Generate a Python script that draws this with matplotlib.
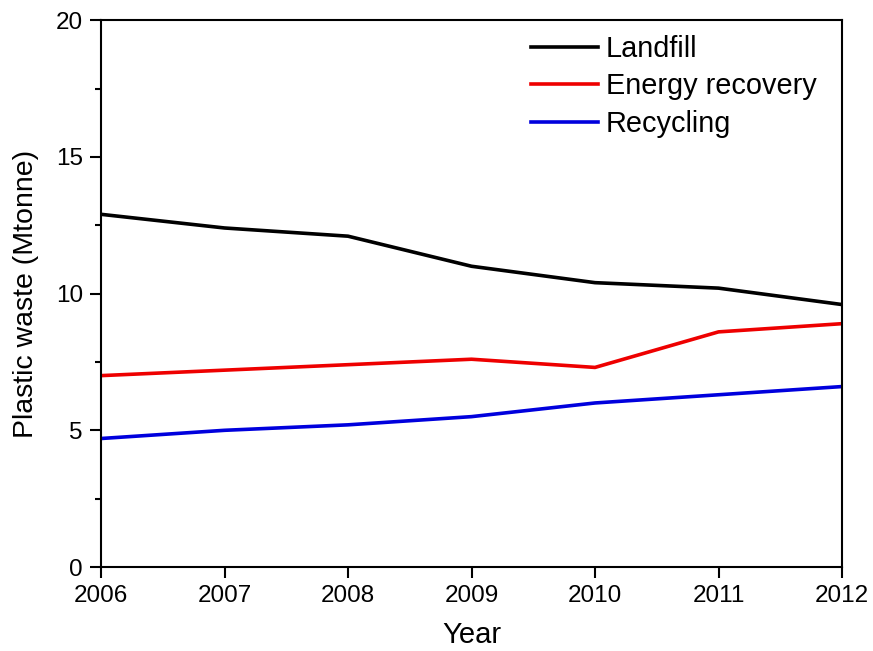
import matplotlib.pyplot as plt
from matplotlib.ticker import MultipleLocator

plt.rcParams['font.family'] = ['Liberation Sans', 'DejaVu Sans']

years = [2006, 2007, 2008, 2009, 2010, 2011, 2012]
landfill = [12.9, 12.4, 12.1, 11.0, 10.4, 10.2, 9.6]
energy_recovery = [7.0, 7.2, 7.4, 7.6, 7.3, 8.6, 8.9]
recycling = [4.7, 5.0, 5.2, 5.5, 6.0, 6.3, 6.6]

fig = plt.figure(figsize=(8.73, 6.51), dpi=100)
ax = fig.add_axes([0.1157, 0.129, 0.8488, 0.840])

ax.plot(years, landfill, color='black', lw=2.6, label='Landfill')
ax.plot(years, energy_recovery, color='#ee0000', lw=2.6, label='Energy recovery')
ax.plot(years, recycling, color='#0000dd', lw=2.6, label='Recycling')

ax.set_xlim(2006, 2012)
ax.set_ylim(0, 20)
ax.yaxis.set_major_locator(MultipleLocator(5))
ax.yaxis.set_minor_locator(MultipleLocator(2.5))
ax.tick_params(axis='both', which='major', direction='out', length=8, width=1.5,
               labelsize=17.5, pad=5)
ax.tick_params(axis='y', which='minor', direction='out', length=4, width=1.5)
ax.tick_params(top=False, right=False)
for s in ax.spines.values():
    s.set_linewidth(1.5)

ax.set_xlabel('Year', fontsize=21, labelpad=10)
ax.set_ylabel('Plastic waste (Mtonne)', fontsize=20.5, labelpad=12)

ax.legend(loc='upper right', bbox_to_anchor=(0.985, 1.0), frameon=False, fontsize=20.8,
          handlelength=2.35, handletextpad=0.25, labelspacing=0.34, borderaxespad=0.1)

fig.savefig('out.png', dpi=100)
